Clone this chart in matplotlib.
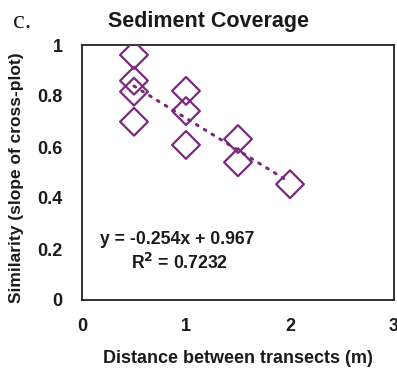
import matplotlib.pyplot as plt
import numpy as np

plt.rcParams['font.family'] = ['Liberation Sans', 'DejaVu Sans']

# distance between transects (m) and similarity values
distance = [0.5, 0.5, 0.5, 0.5, 1.0, 1.0, 1.0, 1.5, 1.5, 2.0]
similarity = [0.961, 0.860, 0.817, 0.699, 0.820, 0.741, 0.608, 0.631, 0.540, 0.454]

x_ticks = [0, 1, 2, 3]
y_ticks = [0, 0.2, 0.4, 0.6, 0.8, 1.0]
y_tick_labels = ['0', '0.2', '0.4', '0.6', '0.8', '1']

purple = '#7a2a7e'
ink = '#1a1a1a'

fig = plt.figure(figsize=(3.97, 3.71), dpi=100)
ax = fig.add_axes([82/397, 1 - 300/371, 312/397, 255/371])

ax.scatter(distance, similarity, marker='D', s=200, facecolors='none',
           edgecolors=purple, linewidths=1.6, zorder=3)

# linear trendline
slope, intercept = np.polyfit(distance, similarity, 1)
xt = np.array([min(distance), max(distance)])
ax.plot(xt, slope * xt + intercept, color=purple, linewidth=2.2,
        linestyle=(0, (0.6, 2.4)), dash_capstyle='round', zorder=2)

ax.text(0.175, 0.22, 'y = -0.254x + 0.967', fontsize=12.7, fontweight='bold',
        color=ink)
ax.text(0.47, 0.12, 'R$^\\mathbf{2}$ = 0.7232', fontsize=12.7, fontweight='bold',
        color=ink)

ax.set_xlim(0, 3)
ax.set_ylim(0, 1)
ax.set_xticks(x_ticks)
ax.set_yticks(y_ticks)
ax.set_yticklabels(y_tick_labels)
ax.tick_params(length=0, labelsize=13, colors=ink)
ax.tick_params(axis='x', pad=13)
ax.tick_params(axis='y', pad=14)
for lab in ax.get_xticklabels() + ax.get_yticklabels():
    lab.set_fontweight('bold')
for sp in ax.spines.values():
    sp.set_linewidth(1.3)
    sp.set_color('#222222')

ax.set_xlabel('Distance between transects (m)', fontsize=13, fontweight='bold',
              color=ink, labelpad=11)
ax.set_ylabel('Similarity (slope of cross-plot)', fontsize=12.5, fontweight='bold',
              color=ink)
ax.yaxis.set_label_coords(-0.185, 0.48)

fig.text(208/397, 1 - 21/371, 'Sediment Coverage', fontsize=15.5,
         fontweight='bold', ha='center', va='center', color=ink)
fig.text(13/397, 1 - 22/371, 'c.', fontsize=19, family='Liberation Serif',
         ha='left', va='center', color=ink)

fig.savefig('out.png', dpi=100)
